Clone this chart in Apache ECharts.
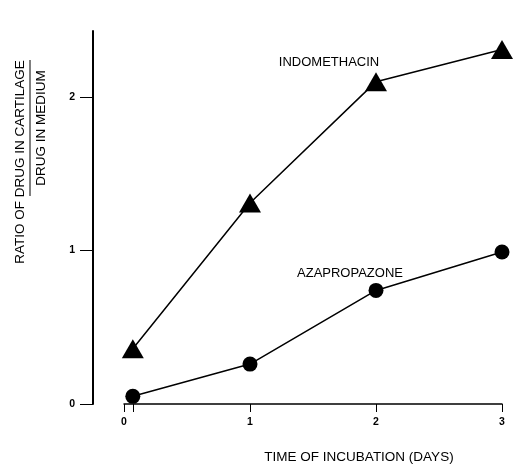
<!DOCTYPE html>
<html>
<head>
<meta charset="utf-8">
<script src="https://cdn.jsdelivr.net/npm/echarts@6/dist/echarts.min.js"></script>
<style>
    html, body { margin: 0; padding: 0; background: #fff; }
    #chart { width: 516px; height: 469px; }
</style>
</head>
<body>
<div id="chart"></div>
<script>
// days of incubation
var days = [0.07, 1, 2, 3];
var indomethacin = [0.36, 1.31, 2.1, 2.31];
var azapropazone = [0.05, 0.26, 0.74, 0.99];
var xTicks = [0, 0.07, 1, 2, 3];
var xLabels = [0, 1, 2, 3];
var yTicks = [0, 1, 2];

var font = 'Liberation Sans, Arial, sans-serif';

function pairs(xs, ys) {
    return xs.map(function (x, i) { return [x, ys[i]]; });
}

var indoData = pairs(days, indomethacin);
indoData[2] = {
    value: indoData[2],
    label: {
        show: true, formatter: 'INDOMETHACIN', position: 'top',
        offset: [-47, 2], color: '#000', fontSize: 13, fontFamily: font
    }
};
var azaData = pairs(days, azapropazone);
azaData[2] = {
    value: azaData[2],
    label: {
        show: true, formatter: 'AZAPROPAZONE', position: 'top',
        offset: [-26, 2], color: '#000', fontSize: 13, fontFamily: font
    }
};

var myChart = echarts.init(document.getElementById('chart'));
var option = {
    animation: false,
    backgroundColor: '#fff',
    grid: { left: 124, right: 14, top: 31, bottom: 64 },
    xAxis: {
        type: 'value',
        min: 0,
        max: 3,
        name: 'TIME OF INCUBATION (DAYS)',
        nameLocation: 'middle',
        nameGap: 46,
        nameTextStyle: { color: '#000', fontSize: 13.5, fontFamily: font, padding: [0, 0, 0, 92] },
        axisLine: { lineStyle: { color: '#000', width: 1.5 } },
        axisTick: { show: true, length: 8, lineStyle: { color: '#000', width: 1 }, customValues: xTicks },
        axisLabel: { color: '#000', fontWeight: 'bold', fontSize: 10.5, fontFamily: font, margin: 13, customValues: xLabels },
        splitLine: { show: false }
    },
    yAxis: {
        type: 'value',
        min: 0,
        max: 2.43,
        offset: 31,
        axisLine: { show: true, onZero: false, lineStyle: { color: '#000', width: 2 } },
        axisTick: { show: true, length: 13, lineStyle: { color: '#000', width: 1 }, customValues: yTicks },
        axisLabel: { color: '#000', fontWeight: 'bold', fontSize: 10.5, fontFamily: font, margin: 18, customValues: yTicks },
        splitLine: { show: false }
    },
    graphic: [
        {
            type: 'text', x: 20, y: 162, rotation: Math.PI / 2,
            style: { text: 'RATIO OF DRUG IN CARTILAGE', fill: '#000', font: '13.5px ' + font, align: 'center', verticalAlign: 'middle' }
        },
        {
            type: 'line', shape: { x1: 30, y1: 60, x2: 30, y2: 196 },
            style: { stroke: '#000', lineWidth: 1 }
        },
        {
            type: 'text', x: 41, y: 128, rotation: Math.PI / 2,
            style: { text: 'DRUG IN MEDIUM', fill: '#000', font: '13.5px ' + font, align: 'center', verticalAlign: 'middle' }
        }
    ],
    series: [
        {
            name: 'Indomethacin',
            type: 'line',
            data: indoData,
            symbol: 'triangle',
            symbolSize: [22, 19],
            itemStyle: { color: '#000' },
            lineStyle: { color: '#000', width: 1.5 }
        },
        {
            name: 'Azapropazone',
            type: 'line',
            data: azaData,
            symbol: 'circle',
            symbolSize: 15,
            itemStyle: { color: '#000' },
            lineStyle: { color: '#000', width: 1.5 }
        }
    ]
};
myChart.setOption(option);
</script>
</body>
</html>
